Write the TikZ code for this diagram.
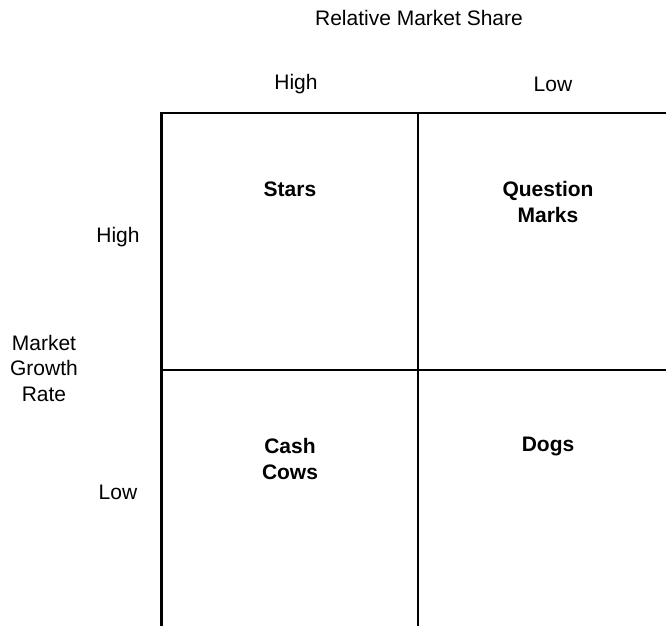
\documentclass[tikz,border=0pt]{standalone}
\usepackage{fontspec}
\setmainfont{Liberation Sans}
\begin{document}
\begin{tikzpicture}[x=1pt, y=-1pt,
    lbl/.style={font=\fontsize{21}{25.5}\selectfont, align=center, inner sep=0pt},
    quad/.style={lbl, font=\fontsize{21}{25.5}\selectfont\bfseries}]
    \useasboundingbox (0, 0) rectangle (666, 625) ;
    \clip (0, 0) rectangle (666, 625) ;
    % grid
    \draw[line width=2.6pt] (161.5, 113) -- (690, 113) ;
    \draw[line width=2.6pt] (161.5, 370) -- (690, 370) ;
    \draw[line width=2.6pt] (161.5, 111.7) -- (161.5, 640) ;
    \draw[line width=2.6pt] (418, 113) -- (418, 640) ;
    % axis labels
    \node[lbl] (share) at (419, 18) {Relative Market Share} ;
    \node[lbl] (shigh) at (296, 84) {High} ;
    \node[lbl] (slow) at (553, 84) {Low} ;
    \node[lbl] (growth) at (44, 368) {Market\\Growth\\Rate} ;
    \node[lbl] (ghigh) at (118, 237) {High} ;
    \node[lbl] (glow) at (118, 492) {Low} ;
    % quadrants
    \node[quad] (stars) at (290, 189) {Stars} ;
    \node[quad] (qmarks) at (548, 202) {Question\\Marks} ;
    \node[quad] (cows) at (290, 459) {Cash\\Cows} ;
    \node[quad] (dogs) at (548, 446) {Dogs} ;
  \end{tikzpicture}
\end{document}
